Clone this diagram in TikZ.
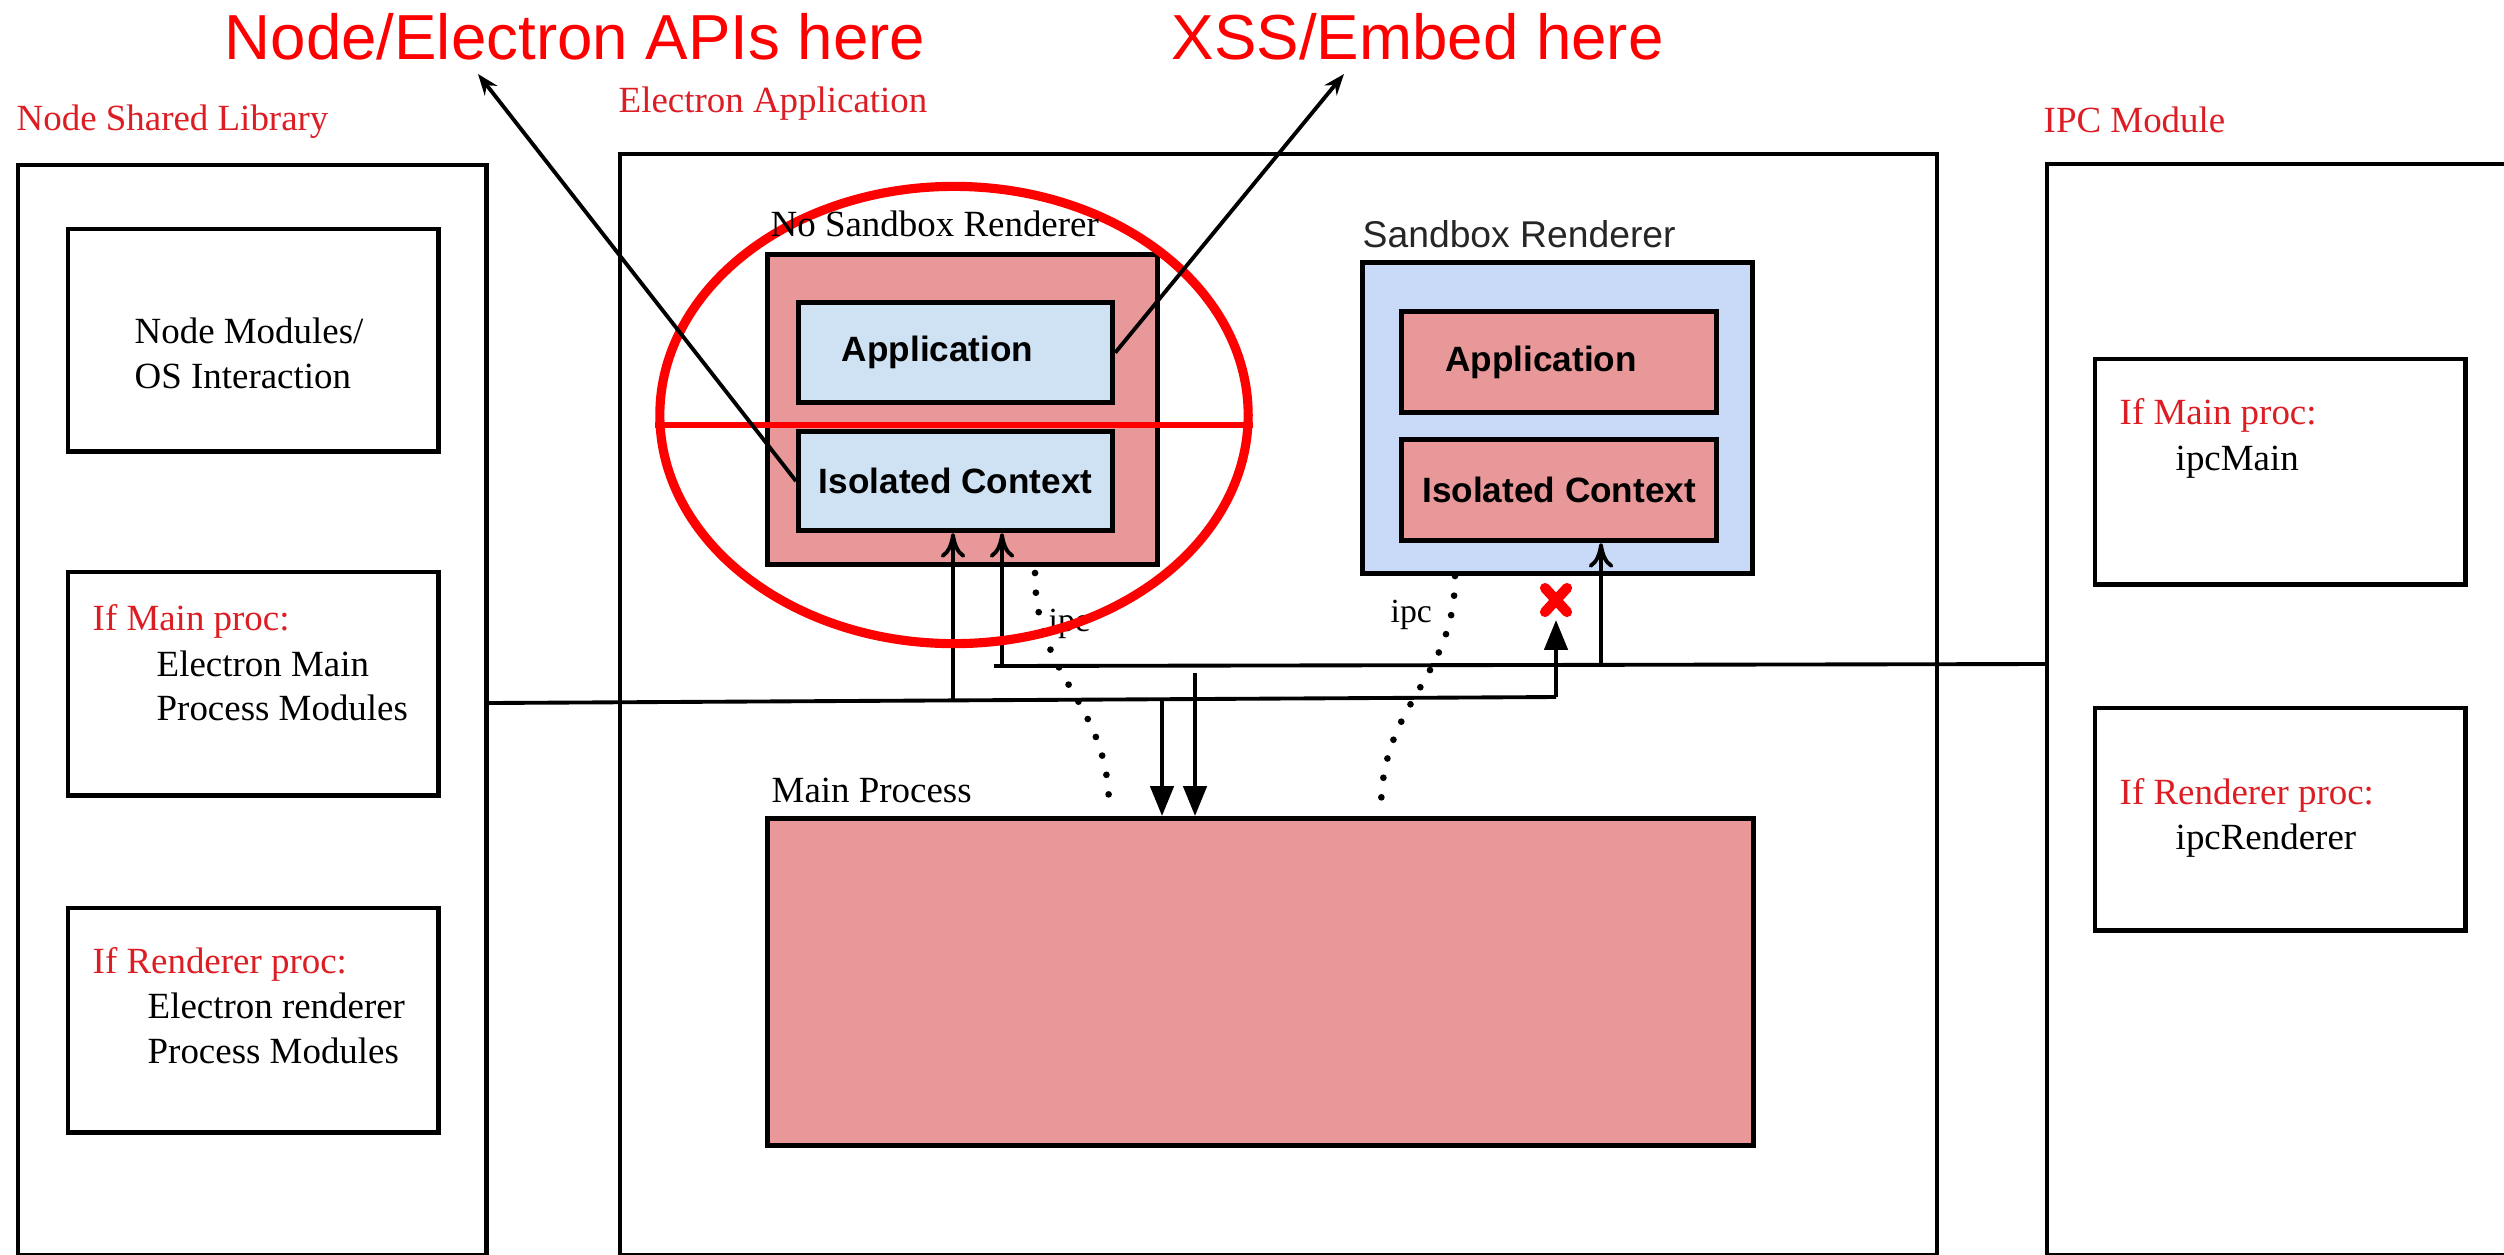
\documentclass[tikz,border=0pt]{standalone}
\usepackage{fontspec}
\setmainfont{Liberation Serif}
\setsansfont{Liberation Sans}
\usetikzlibrary{arrows.meta,shapes.geometric,calc}
\definecolor{boxpink}{RGB}{232,152,152}
\definecolor{paleblue}{RGB}{207,226,243}
\definecolor{sandblue}{RGB}{201,218,248}
\definecolor{titlered}{RGB}{220,30,36}
\definecolor{bigred}{RGB}{255,0,0}
\begin{document}
\begin{tikzpicture}[x=0.01cm,y=-0.01cm,
  frame/.style={draw=black, line width=1.25pt, anchor=north west, inner sep=0pt},
  cframe/.style={frame, line width=1.45pt},
  serif/.style={font=\fontsize{10.5}{12.8}\selectfont, anchor=base west, inner sep=0pt},
  redtxt/.style={serif, text=titlered},
  boldtxt/.style={font=\sffamily\bfseries\fontsize{10}{12}\selectfont},
  bigtxt/.style={font=\sffamily\fontsize{18.1}{21}\selectfont, text=bigred, anchor=base west, inner sep=0pt},
  wire/.style={draw=black, line width=1.1pt},
  tri/.style={wire, -{Triangle[length=8.5pt,width=6.6pt]}},
  barb/.style={wire, -{To[length=7pt,width=7pt]}},
  ptr/.style={draw=black, line width=1.1pt, -{Stealth[length=6pt,width=4.5pt]}},
  dots/.style={draw=black, line width=1.9pt, line cap=round, dash pattern=on 0pt off 5.6pt}
]
\clip (0,0) rectangle (2504,1254);
\fill[white] (0,0) rectangle (2504,1254);

% ---------- Node Shared Library ----------
\node[frame, minimum width=4.68cm, minimum height=10.89cm] (nsl) at (16,163) {};
\node[frame, minimum width=3.70cm, minimum height=2.22cm] (nm) at (66,227) {};
\node[frame, minimum width=3.70cm, minimum height=2.23cm] (emain) at (66,570) {};
\node[frame, minimum width=3.70cm, minimum height=2.24cm] (erend) at (66,906) {};

% ---------- Electron Application ----------
\node[frame, minimum width=13.16cm, minimum height=11.00cm] (ea) at (618,152) {};

% ---------- IPC Module ----------
\node[frame, minimum width=5.00cm, minimum height=10.90cm] (ipc) at (2045,162) {};
\node[frame, minimum width=3.70cm, minimum height=2.25cm] (ipcm) at (2093,357) {};
\node[frame, minimum width=3.70cm, minimum height=2.22cm] (ipcr) at (2093,706) {};

% ---------- Renderers ----------
\node[cframe, fill=boxpink, minimum width=3.90cm, minimum height=3.10cm] (nsr) at (765,252) {};
\node[cframe, fill=paleblue, minimum width=3.14cm, minimum height=1.00cm, boldtxt] (nsapp) at (796,300) {Application\hspace*{0.36cm}};
\node[cframe, fill=paleblue, minimum width=3.14cm, minimum height=0.99cm, boldtxt] (nsiso) at (796,429) {Isolated Context};

\node[cframe, fill=sandblue, minimum width=3.90cm, minimum height=3.11cm] (sr) at (1360,260) {};
\node[cframe, fill=boxpink, minimum width=3.15cm, minimum height=1.01cm, boldtxt] (srapp) at (1399,309) {Application\hspace*{0.36cm}};
\node[cframe, fill=boxpink, minimum width=3.15cm, minimum height=1.01cm, boldtxt] (sriso) at (1399,437) {Isolated Context};

% ---------- Main Process ----------
\node[cframe, fill=boxpink, minimum width=9.85cm, minimum height=3.27cm] (mp) at (765,816) {};

% ---------- connectors ----------
\coordinate (b1) at (nsl.east |- 0,703);
\coordinate (b2) at (1556,697);
\coordinate (xm) at (1556,600);
\coordinate (l1) at (953,700);
\coordinate (d1) at (1162,699);
\coordinate (d2) at (1195,673);
\coordinate (u1) at (ipc.west |- 0,664);
\coordinate (u2) at (994,666);
\coordinate (u3) at (1002,666);
\coordinate (u4) at (1601,665);

\draw[wire] (b1) -- (b2);
\draw[tri] (b2) -- ($(xm)+(0,20)$);
\draw[barb] (l1) -- (l1 |- nsiso.south);
\draw[wire] (u1) -- (u2);
\draw[barb] (u3) -- (u3 |- nsiso.south);
\draw[barb] (u4) -- (u4 |- sriso.south);
\draw[tri] (d1) -- (d1 |- mp.north);
\draw[tri] (d2) -- (d2 |- mp.north);

% red cross
\draw[bigred, line width=2.9pt, line cap=round] ($(xm)+(-11,-12)$) -- ($(xm)+(11,12)$) ($(xm)+(11,-12)$) -- ($(xm)+(-11,12)$);

% ipc dotted links
\coordinate (ia1) at (1035,573);
\coordinate (ia2) at (1109,806);
\coordinate (ib1) at (1455,576);
\coordinate (ib2) at (1381,808);
\draw[dots] (ia1) .. controls (1035,680) and (1108,700) .. (ia2);
\draw[dots] (ib1) .. controls (1455,680) and (1382,700) .. (ib2);
\node[font=\fontsize{9.6}{11}\selectfont, anchor=base west, inner sep=0pt] (ipcA) at (1048,631) {ipc};
\node[font=\fontsize{9.6}{11}\selectfont, anchor=base west, inner sep=0pt] (ipcB) at (1390,622) {ipc};

% ---------- red ellipse ----------
\node[ellipse, draw=bigred, line width=2.6pt, minimum width=5.88cm, minimum height=4.57cm, inner sep=0pt] (ring) at (954,415) {};
\draw[bigred, line width=1.5pt] (ring.west |- 0,425) -- (ring.east |- 0,425);

% ---------- pointers ----------
\coordinate (pa) at (478,74);
\coordinate (pb) at (1344,74);
\draw[ptr] (nsiso.west) -- (pa);
\draw[ptr] (nsapp.east) -- (pb);

% ---------- texts ----------
\node[bigtxt] (lblA) at (224,59) {Node/Electron APIs here};
\node[bigtxt] (lblB) at (1171,59) {XSS/Embed here};

\node[redtxt] (tnsl) at (16,130) {Node Shared Library};
\node[redtxt] (tea) at (618,112) {Electron Application};
\node[redtxt] (tipc) at (2043,132) {IPC Module};

\node[serif] (tnm1) at (134,343) {Node Modules/};
\node[serif] (tnm2) at (134,388) {OS Interaction};

\node[redtxt] (tem0) at (92,630) {If Main proc:};
\node[serif] (tem1) at (156,676) {Electron Main};
\node[serif] (tem2) at (156,720) {Process Modules};

\node[redtxt] (ter0) at (92,973) {If Renderer proc:};
\node[serif] (ter1) at (147,1018) {Electron renderer};
\node[serif] (ter2) at (147,1063) {Process Modules};

\node[redtxt] (tim0) at (2119,424) {If Main proc:};
\node[serif] (tim1) at (2175,470) {ipcMain};
\node[redtxt] (tir0) at (2119,804) {If Renderer proc:};
\node[serif] (tir1) at (2175,849) {ipcRenderer};

\node[serif] (tnsr) at (770,236) {No Sandbox Renderer};
\node[font=\sffamily\fontsize{10.6}{12.8}\selectfont, text=black!85, anchor=base west, inner sep=0pt] (tsr) at (1362,247) {Sandbox Renderer};
\node[serif] (tmp) at (771,802) {Main Process};
\end{tikzpicture}
\end{document}
